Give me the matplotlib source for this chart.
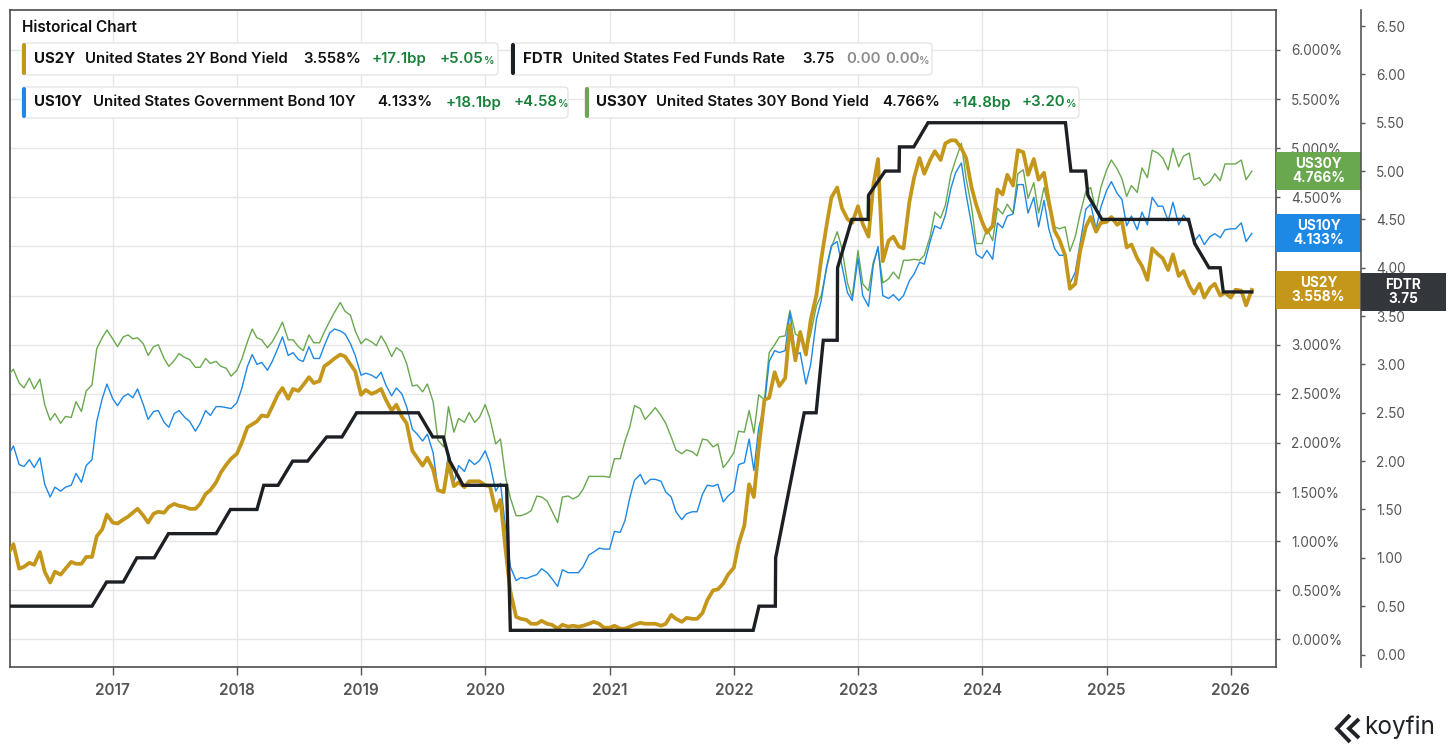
import matplotlib
matplotlib.use("Agg")
import matplotlib.pyplot as plt
import matplotlib.transforms as mtransforms
from matplotlib.patches import FancyBboxPatch, Rectangle
from matplotlib.lines import Line2D
from matplotlib.ticker import FuncFormatter
import pandas as pd

plt.rcParams['font.family'] = ['Inter', 'DejaVu Sans']

W, H = 1456, 752

# ---------------- data ----------------
# semi-monthly observation dates (1st & 15th) plus the final quote date
dates = list(pd.date_range('2016-03-01', '2026-02-15', freq='SMS')) + [pd.Timestamp('2026-03-04')]

us2y = [
    0.88, 0.97, 0.72, 0.74, 0.78, 0.76, 0.89, 0.69, 0.58, 0.69, 0.66, 0.72, 0.79, 0.77, 0.77, 0.84, 0.84, 1.05, 1.12, 1.27,
    1.19, 1.18, 1.22, 1.25, 1.29, 1.33, 1.26, 1.19, 1.28, 1.30, 1.29, 1.35, 1.38, 1.36, 1.35, 1.33, 1.33, 1.38, 1.48, 1.52, 1.60, 1.70, 1.78, 1.84,
    1.89, 2.00, 2.16, 2.19, 2.22, 2.28, 2.27, 2.37, 2.49, 2.56, 2.45, 2.55, 2.53, 2.59, 2.67, 2.61, 2.63, 2.78, 2.82, 2.86, 2.90, 2.88, 2.80, 2.73,
    2.49, 2.54, 2.50, 2.52, 2.55, 2.44, 2.33, 2.39, 2.27, 2.20, 1.92, 1.85, 1.77, 1.85, 1.73, 1.52, 1.50, 1.80, 1.56, 1.60, 1.55, 1.61, 1.61, 1.61,
    1.57, 1.56, 1.31, 1.42, 0.91, 0.49, 0.23, 0.21, 0.20, 0.16, 0.16, 0.19, 0.16, 0.15, 0.11, 0.15, 0.13, 0.14, 0.13, 0.14, 0.16, 0.18, 0.16, 0.12,
    0.12, 0.14, 0.11, 0.11, 0.13, 0.15, 0.17, 0.16, 0.16, 0.16, 0.14, 0.16, 0.25, 0.21, 0.18, 0.22, 0.21, 0.21, 0.27, 0.40, 0.50, 0.51, 0.57, 0.66,
    0.73, 0.97, 1.16, 1.58, 1.45, 1.94, 2.44, 2.46, 2.72, 2.58, 2.66, 3.20, 2.84, 3.13, 2.90, 3.25, 3.51, 3.87, 4.22, 4.50, 4.60, 4.39, 4.28, 4.24,
    4.41, 4.23, 4.10, 4.62, 4.89, 3.85, 4.06, 4.10, 4.00, 3.98, 4.45, 4.70, 4.90, 4.74, 4.88, 4.97, 4.88, 5.05, 5.08, 5.08, 5.00, 4.90, 4.60, 4.42,
    4.25, 4.14, 4.21, 4.58, 4.53, 4.73, 4.62, 4.98, 4.96, 4.73, 4.89, 4.68, 4.75, 4.46, 4.16, 4.07, 3.91, 3.57, 3.62, 3.95, 4.20, 4.30, 4.15, 4.24,
    4.25, 4.30, 4.22, 4.26, 3.99, 4.02, 3.88, 3.80, 3.66, 3.98, 3.92, 3.88, 3.76, 3.92, 3.70, 3.75, 3.60, 3.52, 3.62, 3.48, 3.58, 3.62, 3.50, 3.53,
    3.48, 3.56, 3.55, 3.40, 3.558,
]

us10y = [
    1.88, 1.97, 1.78, 1.76, 1.83, 1.75, 1.85, 1.58, 1.45, 1.55, 1.51, 1.55, 1.57, 1.69, 1.60, 1.77, 1.83, 2.22, 2.45, 2.60,
    2.45, 2.38, 2.47, 2.50, 2.46, 2.55, 2.39, 2.24, 2.32, 2.33, 2.21, 2.16, 2.30, 2.33, 2.26, 2.22, 2.12, 2.20, 2.33, 2.28, 2.37, 2.37, 2.36, 2.35,
    2.41, 2.55, 2.78, 2.90, 2.80, 2.82, 2.74, 2.83, 2.96, 3.08, 2.89, 2.92, 2.85, 2.83, 2.98, 2.86, 2.86, 2.99, 3.12, 3.16, 3.14, 3.11, 3.01, 2.89,
    2.69, 2.71, 2.69, 2.66, 2.72, 2.59, 2.48, 2.56, 2.50, 2.37, 2.14, 2.09, 2.02, 2.09, 1.90, 1.53, 1.50, 1.90, 1.60, 1.77, 1.71, 1.83, 1.78, 1.82,
    1.92, 1.79, 1.51, 1.59, 1.13, 0.74, 0.60, 0.63, 0.62, 0.64, 0.66, 0.72, 0.68, 0.62, 0.54, 0.71, 0.68, 0.68, 0.68, 0.74, 0.86, 0.89, 0.93, 0.92,
    0.92, 1.10, 1.09, 1.21, 1.44, 1.62, 1.68, 1.58, 1.63, 1.63, 1.61, 1.50, 1.45, 1.30, 1.22, 1.28, 1.30, 1.30, 1.48, 1.57, 1.56, 1.58, 1.40, 1.46,
    1.51, 1.78, 1.80, 2.04, 1.72, 2.15, 2.38, 2.83, 2.94, 2.92, 2.94, 3.33, 2.89, 2.92, 2.60, 2.80, 3.26, 3.45, 3.80, 4.01, 4.05, 3.80, 3.53, 3.45,
    3.88, 3.50, 3.39, 3.81, 4.00, 3.50, 3.47, 3.51, 3.45, 3.50, 3.65, 3.72, 3.84, 3.82, 4.05, 4.21, 4.18, 4.32, 4.59, 4.75, 4.85, 4.53, 4.22, 3.92,
    3.88, 3.96, 3.87, 4.24, 4.19, 4.31, 4.33, 4.63, 4.63, 4.34, 4.50, 4.20, 4.47, 4.18, 3.98, 3.91, 3.91, 3.62, 3.74, 4.03, 4.38, 4.43, 4.18, 4.40,
    4.57, 4.66, 4.54, 4.48, 4.21, 4.31, 4.17, 4.35, 4.22, 4.50, 4.41, 4.41, 4.26, 4.45, 4.22, 4.32, 4.23, 4.05, 4.12, 4.02, 4.10, 4.13, 4.09, 4.17,
    4.18, 4.18, 4.24, 4.05, 4.133,
]

us30y = [
    2.70, 2.75, 2.61, 2.56, 2.66, 2.55, 2.65, 2.39, 2.23, 2.30, 2.20, 2.27, 2.26, 2.42, 2.32, 2.53, 2.59, 2.96, 3.07, 3.15,
    3.06, 2.98, 3.08, 3.10, 3.06, 3.07, 3.01, 2.89, 2.98, 3.00, 2.86, 2.78, 2.84, 2.91, 2.87, 2.85, 2.77, 2.77, 2.86, 2.81, 2.83, 2.78, 2.76, 2.68,
    2.74, 2.85, 3.03, 3.16, 3.07, 3.05, 2.97, 3.03, 3.13, 3.23, 3.05, 3.05, 2.98, 2.94, 3.10, 3.02, 3.02, 3.13, 3.24, 3.33, 3.43, 3.34, 3.30, 3.14,
    3.01, 3.06, 3.03, 2.99, 3.09, 3.01, 2.88, 2.97, 2.93, 2.81, 2.58, 2.59, 2.52, 2.60, 2.42, 2.03, 1.96, 2.37, 2.11, 2.25, 2.21, 2.31, 2.21, 2.26,
    2.39, 2.25, 1.99, 2.04, 1.65, 1.44, 1.26, 1.26, 1.28, 1.31, 1.46, 1.45, 1.41, 1.31, 1.19, 1.45, 1.46, 1.43, 1.46, 1.53, 1.66, 1.66, 1.66, 1.66,
    1.65, 1.84, 1.84, 2.02, 2.16, 2.38, 2.35, 2.24, 2.30, 2.36, 2.28, 2.20, 2.06, 1.93, 1.89, 1.93, 1.91, 1.87, 2.04, 2.03, 1.96, 1.99, 1.75, 1.81,
    1.90, 2.12, 2.11, 2.33, 2.10, 2.49, 2.44, 2.92, 3.00, 3.08, 3.09, 3.35, 3.11, 3.08, 2.93, 3.11, 3.40, 3.50, 3.78, 3.99, 4.15, 3.98, 3.63, 3.48,
    3.96, 3.62, 3.55, 3.84, 3.98, 3.63, 3.67, 3.74, 3.67, 3.86, 3.86, 3.87, 3.86, 3.91, 4.10, 4.35, 4.29, 4.42, 4.73, 4.88, 5.05, 4.69, 4.40, 4.03,
    4.03, 4.18, 4.06, 4.39, 4.33, 4.43, 4.34, 4.74, 4.78, 4.49, 4.65, 4.34, 4.60, 4.40, 4.20, 4.18, 4.20, 3.95, 4.10, 4.33, 4.56, 4.60, 4.36, 4.60,
    4.78, 4.88, 4.79, 4.69, 4.51, 4.62, 4.55, 4.80, 4.70, 4.98, 4.95, 4.90, 4.78, 5.00, 4.81, 4.92, 4.95, 4.68, 4.70, 4.62, 4.66, 4.74, 4.67, 4.84,
    4.84, 4.84, 4.88, 4.68, 4.766,
]

# Fed funds target (upper bound) as sampled by the chart
fdtr_dates = pd.to_datetime([
    '2016-03-01', '2016-11-01', '2016-12-14', '2017-02-01', '2017-03-13', '2017-05-03', '2017-06-14',
    '2017-11-01', '2017-12-13', '2018-03-01', '2018-03-21', '2018-05-02', '2018-06-14', '2018-07-28',
    '2018-09-22', '2018-11-06', '2018-12-19', '2019-06-19', '2019-07-31', '2019-08-31', '2019-09-19',
    '2019-10-28', '2020-03-04', '2020-03-15', '2022-02-27', '2022-03-16', '2022-05-03', '2022-05-04',
    '2022-07-27', '2022-08-31', '2022-09-21', '2022-11-01', '2022-11-02', '2022-12-14', '2023-01-31',
    '2023-02-01', '2023-03-22', '2023-05-02', '2023-05-03', '2023-06-14', '2023-07-26', '2024-09-02',
    '2024-09-18', '2024-10-31', '2024-11-07', '2024-12-18', '2025-08-30', '2025-09-17', '2025-10-29',
    '2025-12-01', '2025-12-10', '2026-03-04'])
fdtr = [0.50, 0.50, 0.75, 0.75, 1.00, 1.00, 1.25,
        1.25, 1.50, 1.50, 1.75, 1.75, 2.00, 2.00,
        2.25, 2.25, 2.50, 2.50, 2.25, 2.25, 2.00,
        1.75, 1.75, 0.25, 0.25, 0.50, 0.50, 1.00,
        2.50, 2.50, 3.25, 3.25, 4.00, 4.50, 4.50,
        4.75, 5.00, 5.00, 5.25, 5.25, 5.50, 5.50,
        5.00, 5.00, 4.75, 4.50, 4.50, 4.25, 4.00,
        4.00, 3.75, 3.75]

year_ticks = ['2017', '2018', '2019', '2020', '2021', '2022', '2023', '2024', '2025', '2026']
pct_ticks = [0.0, 0.5, 1.0, 1.5, 2.0, 2.5, 3.0, 3.5, 4.0, 4.5, 5.0, 5.5, 6.0]
ff_ticks = [0.0, 0.5, 1.0, 1.5, 2.0, 2.5, 3.0, 3.5, 4.0, 4.5, 5.0, 5.5, 6.0, 6.5]

# legend rows: (ticker, name, value, change bp, change pct)
legend_items = [
    ('US2Y', 'United States 2Y Bond Yield', f'{us2y[-1]:.3f}%', '+17.1bp', '+5.05'),
    ('FDTR', 'United States Fed Funds Rate', f'{fdtr[-1]:.2f}', '0.00', '0.00'),
    ('US10Y', 'United States Government Bond 10Y', f'{us10y[-1]:.3f}%', '+18.1bp', '+4.58'),
    ('US30Y', 'United States 30Y Bond Yield', f'{us30y[-1]:.3f}%', '+14.8bp', '+3.20'),
]

C2 = '#C4961A'
C10 = '#1E88E5'
C30 = '#6AA84F'
CFF = '#1C1F24'
GREEN = '#17803A'
GRAY = '#555555'

# ---------------- figure ----------------
fig = plt.figure(figsize=(W / 100, H / 100), dpi=100)
fig.patch.set_facecolor('white')

L, R, T, B = 10, 1276, 9.5, 666.5
ax = fig.add_axes([L / W, 1 - B / H, (R - L) / W, (B - T) / H])
ax2 = ax.twinx()

ax.plot(dates, us30y, color=C30, lw=1.0, zorder=3)
ax.plot(dates, us10y, color=C10, lw=1.0, zorder=3)
ax.plot(dates, us2y, color=C2, lw=2.7, zorder=4, solid_joinstyle='round')
ax2.plot(fdtr_dates, fdtr, color=CFF, lw=2.4, zorder=5, solid_joinstyle='miter')

ax.set_xlim(pd.Timestamp('2016-03-05'), pd.Timestamp('2026-05-14'))
ax.set_ylim(-0.275, 6.412)
ax2.set_ylim(-0.124, 6.671)

# x axis
ax.set_xticks([pd.Timestamp(f'{y}-01-01') for y in year_ticks])
ax.set_xticklabels(year_ticks, fontsize=11, fontweight='semibold', color=GRAY)
ax.tick_params(axis='x', length=6, color=GRAY, pad=6, width=1)

# percent axis on right of plot box
ax.yaxis.tick_right()
ax.set_yticks(pct_ticks)
ax.yaxis.set_major_formatter(FuncFormatter(lambda v, p: f'{v:.3f}%'))
ax.tick_params(axis='y', length=3, color=GRAY, labelcolor=GRAY, labelsize=9.8, pad=8, width=1)

# fed funds axis
ax2.spines['right'].set_position(('axes', 1351 / 1266))
for s in ['left', 'top', 'bottom']:
    ax2.spines[s].set_visible(False)
ax2.spines['right'].set_color(GRAY)
ax2.spines['right'].set_linewidth(1.2)
ax2.set_yticks(ff_ticks)
ax2.yaxis.set_major_formatter(FuncFormatter(lambda v, p: f'{v:.2f}'))
ax2.tick_params(axis='y', length=3, color=GRAY, labelcolor=GRAY, labelsize=9.8, pad=8, width=1)

for s in ax.spines.values():
    s.set_color('#4d4d4d')
    s.set_linewidth(1.2)

ax.grid(True, color='#e6e6e6', lw=1.0)
ax.set_axisbelow(True)

# value tags on the right (they sit over the axis labels, as in the source)
x0 = 1.0
x1 = 1351 / 1266
x2 = 1436 / 1266
tags = [(ax, us30y[-1], C30, 'US30Y', f'{us30y[-1]:.3f}%', x0, x1, 0.385),
        (ax, us10y[-1], C10, 'US10Y', f'{us10y[-1]:.3f}%', x0, x1, 0.385),
        (ax, us2y[-1], C2, 'US2Y', f'{us2y[-1]:.3f}%', x0, x1, 0.385),
        (ax2, fdtr[-1], '#33363B', 'FDTR', f'{fdtr[-1]:.2f}', x1, x2, 0.40)]
for a, v, col, name, val, xa, xb, hgt in tags:
    tr = a.get_yaxis_transform()
    a.add_patch(Rectangle((xa, v - hgt / 2), xb - xa, hgt, transform=tr, facecolor=col,
                          edgecolor='none', clip_on=False, zorder=20))
    a.text((xa + xb) / 2, v, f'{name}\n{val}', transform=tr, ha='center', va='center',
           color='white', fontsize=9.8, fontweight='bold', linespacing=1.0, zorder=21, clip_on=False)

# ---------------- header / legend ----------------
pix = mtransforms.IdentityTransform()


def fy(y):
    return H - y


fig.text(22 / W, 1 - 27 / H, 'Historical Chart', fontsize=11, fontweight='semibold',
         color='#111111', va='center', ha='left')

boxes = [  # x0, x1, ytop, ybottom, colour, text x positions
    (22, 498, 43, 75, C2, [34, 85, 303, 372, 440]),
    (511, 932, 43, 75, CFF, [523, 572, 802, 846, 885]),
    (22, 568, 87, 118, C10, [34, 93, 377, 446, 514]),
    (585, 1079, 87, 118, C30, [596, 656, 882, 952, 1022]),
]

renderer = fig.canvas.get_renderer()
for (bx0, bx1, by0, by1, col, xs), item in zip(boxes, legend_items):
    fig.patches.append(FancyBboxPatch((bx0, fy(by1)), bx1 - bx0, by1 - by0,
                                      boxstyle='round,pad=0,rounding_size=4', transform=pix,
                                      facecolor='white', edgecolor='#e3e3e3', lw=0.9, zorder=5))
    fig.patches.append(FancyBboxPatch((bx0, fy(by1)), 4, by1 - by0,
                                      boxstyle='round,pad=0,rounding_size=2', transform=pix,
                                      facecolor=col, edgecolor='none', zorder=6))
    yc = (by0 + by1) / 2
    ticker, name, val, chg, pct = item
    is_ff = ticker == 'FDTR'
    chg_col = '#8C8C8C' if is_ff else GREEN
    fig.text(xs[0] / W, 1 - yc / H, ticker, fontsize=10.8, fontweight='bold', color='#111111',
             va='center', ha='left', zorder=7)
    fig.text(xs[1] / W, 1 - yc / H, name, fontsize=10.8, fontweight='semibold', color='#111111',
             va='center', ha='left', zorder=7)
    fig.text(xs[2] / W, 1 - yc / H, val, fontsize=10.8, fontweight='semibold', color='#111111',
             va='center', ha='left', zorder=7)
    fig.text(xs[3] / W, 1 - yc / H, chg, fontsize=10.8, fontweight='semibold', color=chg_col,
             va='center', ha='left', zorder=7)
    t = fig.text(xs[4] / W, 1 - yc / H, pct, fontsize=10.8, fontweight='semibold', color=chg_col,
                 va='center', ha='left', zorder=7)
    bb = t.get_window_extent(renderer)
    fig.text(bb.x1 / W, 1 - (yc + 1.5) / H, '%', fontsize=7.6, fontweight='semibold', color=chg_col,
             va='center', ha='left', zorder=7)

# ---------------- koyfin logo ----------------
fig.text(1364 / W, 1 - 727 / H, 'koyfin', fontsize=17.5, color='#1F2328', va='center', ha='left')
for pts in ([(1350, 715), (1337, 728.5), (1350, 742)],
            [(1359, 719), (1349, 728.5), (1359, 738)]):
    xs_ = [p[0] for p in pts]
    ys_ = [fy(p[1]) for p in pts]
    fig.lines.append(Line2D(xs_, ys_, transform=pix, color='#1F2328', lw=2.8,
                            solid_joinstyle='miter', solid_capstyle='butt'))

fig.savefig('out.png', dpi=100, facecolor='white')
